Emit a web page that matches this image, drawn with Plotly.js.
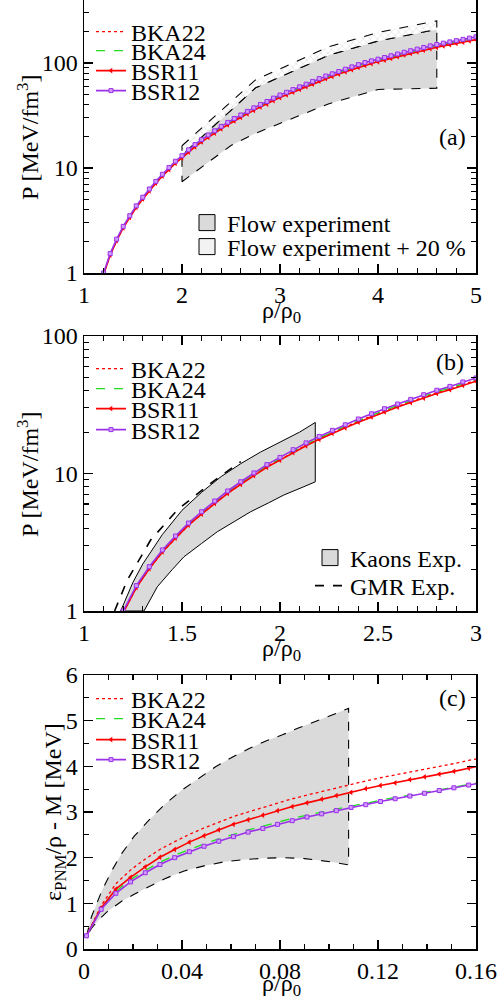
<!DOCTYPE html>
<html>
<head>
<meta charset="utf-8">
<script src="https://cdn.plot.ly/plotly-3.0.1.min.js"></script>
<style>html,body{margin:0;padding:0;background:#fff;}#chart{width:501px;height:1003px;}</style>
</head>
<body>
<div id="chart"></div>
<script>
// ---------- data: pressure vs density (panels a, b) ----------
const rho = [1.2, 1.267, 1.333, 1.4, 1.467, 1.533, 1.6, 1.667, 1.733, 1.8, 1.867, 1.933, 2.0, 2.067, 2.133, 2.2, 2.267, 2.333, 2.4, 2.467, 2.533, 2.6, 2.667, 2.733, 2.8, 2.867, 2.933, 3.0, 3.067, 3.133, 3.2, 3.267, 3.333, 3.4, 3.467, 3.533, 3.6, 3.667, 3.733, 3.8, 3.867, 3.933, 4.0, 4.067, 4.133, 4.2, 4.267, 4.333, 4.4, 4.467, 4.533, 4.6, 4.667, 4.733, 4.8, 4.867, 4.933, 5.0];
const pBKA22 = [0.975, 1.48, 2.03, 2.68, 3.38, 4.20, 5.08, 6.08, 7.18, 8.39, 9.73, 11.2, 12.6, 14.3, 16.1, 17.9, 19.8, 21.8, 24.0, 26.2, 28.5, 30.8, 33.3, 36.0, 38.8, 41.4, 44.6, 47.6, 50.6, 53.7, 57.0, 60.5, 64.3, 68.3, 72.2, 75.9, 79.8, 84.0, 88.3, 92.7, 97.1, 100.8, 104.6, 108.6, 112.7, 117.2, 121.7, 125.9, 130.4, 135.3, 140.1, 144.3, 148.6, 152.9, 157.1, 161.5, 166.0, 170.7];
const pBKA24 = [0.98, 1.49, 2.05, 2.71, 3.42, 4.25, 5.14, 6.15, 7.27, 8.49, 9.85, 11.3, 12.8, 14.5, 16.3, 18.1, 20.1, 22.0, 24.3, 26.5, 28.9, 31.2, 33.7, 36.5, 39.3, 41.9, 45.1, 48.3, 51.3, 54.4, 57.8, 61.3, 65.1, 69.2, 73.2, 76.9, 80.9, 85.1, 89.5, 94.0, 98.4, 102.2, 106.0, 110.1, 114.3, 118.8, 123.3, 127.6, 132.2, 137.1, 142.0, 146.3, 150.6, 154.9, 159.2, 163.7, 168.3, 173.0];
const pBSR11 = [0.97, 1.48, 2.03, 2.69, 3.39, 4.21, 5.07, 6.06, 7.16, 8.35, 9.67, 11.1, 12.5, 14.2, 15.9, 17.7, 19.6, 21.5, 23.6, 25.8, 28.1, 30.4, 32.8, 35.4, 38.2, 40.7, 43.8, 46.9, 49.8, 52.8, 56.1, 59.5, 63.1, 67.1, 71.0, 74.5, 78.4, 82.4, 86.7, 91.0, 95.2, 98.9, 102.6, 106.5, 110.5, 114.9, 119.3, 123.4, 127.8, 132.5, 137.2, 141.3, 145.5, 149.6, 153.7, 158.0, 162.4, 166.9];
const pBSR12 = [1.0, 1.53, 2.10, 2.78, 3.51, 4.36, 5.27, 6.31, 7.46, 8.71, 10.1, 11.6, 13.1, 14.9, 16.7, 18.6, 20.6, 22.6, 24.9, 27.2, 29.6, 32.0, 34.6, 37.4, 40.3, 43.0, 46.3, 49.5, 52.6, 55.8, 59.3, 62.9, 66.8, 71.0, 75.1, 78.9, 83.0, 87.3, 91.8, 96.4, 100.9, 104.8, 108.7, 112.9, 117.2, 121.8, 126.5, 130.9, 135.6, 140.6, 145.6, 150.0, 154.5, 158.9, 163.3, 167.9, 172.6, 177.4];

// flow experiment band (panel a)
const flowLowX = [2.0, 2.5, 2.75, 3.5, 4.0, 4.6];
const flowLowP = [7.4, 16.4, 21.4, 41, 56, 57.5];
const flowHighX = [2.0, 2.75, 3.5, 4.0, 4.6];
const flowHighP = [13.3, 58, 119, 162, 209];
const flow20P = [16.3, 69, 143, 195, 252];

// kaons band and GMR line (panel b)
const kaonUpX = [1.187, 1.25, 1.3, 1.4, 1.5, 1.6, 1.7, 1.8, 1.9, 2.0, 2.1, 2.18];
const kaonUpP = [1.0, 1.62, 2.2, 3.6, 5.4, 7.3, 9.5, 11.8, 14.3, 17.0, 20.0, 23.5];
const kaonLowX = [1.306, 1.374, 1.45, 1.51, 1.6, 1.68, 1.77, 1.85, 1.94, 2.02, 2.122, 2.18];
const kaonLowP = [1.0, 1.50, 2.0, 2.48, 3.1, 3.77, 4.5, 5.27, 6.1, 6.98, 8.02, 8.7];
const gmrX = [1.156, 1.19, 1.221, 1.34, 1.476, 1.646, 1.8];
const gmrP = [1.0, 1.33, 1.68, 3.28, 5.43, 8.49, 12.2];

// ---------- data: PNM energy per particle (panel c) ----------
const rhoC = [0.001, 0.007, 0.013, 0.019, 0.025, 0.031, 0.037, 0.043, 0.049, 0.055, 0.061, 0.067, 0.073, 0.079, 0.085, 0.091, 0.097, 0.103, 0.109, 0.115, 0.121, 0.127, 0.133, 0.139, 0.145, 0.151, 0.157, 0.163];
const eBKA22 = [0.29, 0.95, 1.43, 1.73, 1.97, 2.18, 2.35, 2.51, 2.65, 2.78, 2.90, 3.00, 3.10, 3.20, 3.29, 3.37, 3.45, 3.53, 3.60, 3.68, 3.75, 3.81, 3.88, 3.94, 4.00, 4.06, 4.13, 4.19];
const eBKA24 = [0.29, 0.89, 1.26, 1.52, 1.72, 1.90, 2.05, 2.18, 2.30, 2.41, 2.51, 2.61, 2.69, 2.78, 2.86, 2.93, 3.00, 3.07, 3.13, 3.19, 3.26, 3.32, 3.37, 3.43, 3.49, 3.54, 3.60, 3.66];
const eBSR11 = [0.29, 0.90, 1.31, 1.57, 1.80, 2.01, 2.18, 2.34, 2.48, 2.61, 2.73, 2.83, 2.93, 3.03, 3.12, 3.20, 3.28, 3.36, 3.43, 3.51, 3.58, 3.64, 3.71, 3.77, 3.83, 3.89, 3.96, 4.02];
const eBSR12 = [0.29, 0.87, 1.22, 1.47, 1.67, 1.85, 2.00, 2.13, 2.25, 2.36, 2.46, 2.56, 2.64, 2.73, 2.81, 2.89, 2.96, 3.03, 3.10, 3.16, 3.23, 3.29, 3.35, 3.41, 3.47, 3.53, 3.59, 3.65];
const bandUpX = [0.001, 0.003, 0.0074, 0.0115, 0.0155, 0.0205, 0.0265, 0.033, 0.040, 0.047, 0.0537, 0.0605, 0.0674, 0.074, 0.081, 0.088, 0.095, 0.1015, 0.108];
const bandUpE = [0.28, 0.70, 1.29, 1.73, 2.10, 2.47, 2.82, 3.17, 3.48, 3.75, 3.99, 4.20, 4.39, 4.55, 4.69, 4.85, 4.99, 5.13, 5.27];
const bandLowX = [0.001, 0.003, 0.0057, 0.0095, 0.0155, 0.0205, 0.0252, 0.033, 0.0409, 0.049, 0.0573, 0.066, 0.0745, 0.0818, 0.09, 0.0957, 0.102, 0.108];
const bandLowE = [0.25, 0.45, 0.62, 0.82, 1.05, 1.20, 1.33, 1.54, 1.71, 1.82, 1.91, 1.96, 1.99, 2.00, 1.98, 1.95, 1.90, 1.84];

const names = ['BKA22', 'BKA24', 'BSR11', 'BSR12'];

// ---------- styling ----------
const FONT = 'Liberation Serif, Times New Roman, serif';
const RED = '#ff0000', GREEN = '#22dd22', PURPLE = '#9b30e8', GRAY = '#dadada';
const styles = {
  BKA22: {mode: 'lines', line: {color: RED, width: 1.3, dash: 'dot'}},
  BKA24: {mode: 'lines', line: {color: GREEN, width: 1.3, dash: 'dash'}},
  BSR11: {mode: 'lines+markers', line: {color: RED, width: 1.6}, marker: {symbol: 'triangle-left', size: 5, color: RED}},
  BSR12: {mode: 'lines+markers', line: {color: PURPLE, width: 1.6}, marker: {symbol: 'square', size: 4, color: '#cf9cff', line: {color: PURPLE, width: 1}}}
};
const PL = 84, PR = 25, PB = 54, PH = 949, PW = 392;
const px2x = p => (p - PL) / PW;
const py2y = p => (PH - p) / PH;
const rev = a => a.slice().reverse();

const traces = [];
const layout = {
  width: 501, height: 1003,
  margin: {l: PL, r: PR, t: 0, b: PB},
  paper_bgcolor: '#fff', plot_bgcolor: '#fff',
  font: {family: FONT, size: 24, color: '#000'},
  showlegend: true,
  annotations: []
};
let legN = 0;
function newLegend(textX, yPix) {
  legN += 1;
  const key = legN === 1 ? 'legend' : 'legend' + legN;
  layout[key] = {x: px2x(textX - 42), y: py2y(yPix), xanchor: 'left', yanchor: 'middle',
    bgcolor: 'rgba(0,0,0,0)', borderwidth: 0, font: {family: FONT, size: 24, color: '#000'}, itemwidth: 30};
  return key;
}
// legend-only entry (no data, only a legend symbol)
function legendBox(name, xa, ya, fill, key) {
  return {x: [null], y: [null], xaxis: xa, yaxis: ya, mode: 'markers', name: name, legend: key,
    marker: {symbol: 'square', size: 16, color: fill, line: {color: '#000', width: 1}}, hoverinfo: 'skip'};
}

// ---- panel (a) bands ----
traces.push({x: flowLowX.concat(rev(flowHighX), [flowLowX[0]]), y: flowLowP.concat(rev(flowHighP), [flowLowP[0]]),
  xaxis: 'x', yaxis: 'y', mode: 'lines', fill: 'toself', fillcolor: GRAY,
  line: {color: '#000', width: 1.1, dash: 'dash'}, showlegend: false, hoverinfo: 'skip'});
traces.push({x: flowHighX.concat(rev(flowHighX), [flowHighX[0]]), y: flow20P.concat(rev(flowHighP), [flow20P[0]]),
  xaxis: 'x', yaxis: 'y', mode: 'lines', fill: 'toself', fillcolor: '#ffffff',
  fillpattern: {shape: 'x', fgcolor: '#c8c8c8', bgcolor: '#ffffff', size: 5, solidity: 0.15},
  line: {color: '#000', width: 1.1, dash: 'dash'}, showlegend: false, hoverinfo: 'skip'});
traces.push(legendBox('Flow experiment', 'x', 'y', GRAY, newLegend(229, 223)));
traces.push(legendBox('Flow experiment + 20 %', 'x', 'y', '#f2f2f2', newLegend(229, 247)));

// ---- panel (b) bands ----
traces.push({x: kaonUpX.concat(rev(kaonLowX), [kaonUpX[0]]), y: kaonUpP.concat(rev(kaonLowP), [kaonUpP[0]]),
  xaxis: 'x2', yaxis: 'y2', mode: 'lines', fill: 'toself', fillcolor: GRAY,
  line: {color: '#000', width: 1}, showlegend: false, hoverinfo: 'skip'});
traces.push(legendBox('Kaons Exp.', 'x2', 'y2', GRAY, newLegend(352, 558)));
traces.push({x: gmrX, y: gmrP, xaxis: 'x2', yaxis: 'y2', mode: 'lines',
  line: {color: '#000', width: 1.6, dash: 'dash'}, name: 'GMR Exp.', legend: newLegend(352, 586), hoverinfo: 'skip'});

// ---- panel (c) band ----
traces.push({x: bandUpX.concat(rev(bandLowX), [bandUpX[0]]), y: bandUpE.concat(rev(bandLowE), [bandUpE[0]]),
  xaxis: 'x3', yaxis: 'y3', mode: 'lines', fill: 'toself', fillcolor: GRAY,
  line: {color: '#000', width: 1.1, dash: 'dash'}, showlegend: false, hoverinfo: 'skip'});

// ---- model curves ----
const pData = {BKA22: pBKA22, BKA24: pBKA24, BSR11: pBSR11, BSR12: pBSR12};
const eData = {BKA22: eBKA22, BKA24: eBKA24, BSR11: eBSR11, BSR12: eBSR12};
const legY = {a: [32, 51, 71, 91], b: [369, 389, 409, 430], c: [699, 719, 740, 760]};
const copy = o => JSON.parse(JSON.stringify(o));
names.forEach((n, i) => {
  traces.push(Object.assign({x: rho, y: pData[n], xaxis: 'x', yaxis: 'y', name: n, legend: newLegend(133, legY.a[i])}, copy(styles[n])));
});
names.forEach((n, i) => {
  traces.push(Object.assign({x: rho, y: pData[n], xaxis: 'x2', yaxis: 'y2', name: n, legend: newLegend(133, legY.b[i])}, copy(styles[n])));
});
names.forEach((n, i) => {
  traces.push(Object.assign({x: rhoC, y: eData[n], xaxis: 'x3', yaxis: 'y3', name: n, legend: newLegend(133, legY.c[i])}, copy(styles[n])));
});

// ---------- axes ----------
function minor(dt) { return {ticks: 'inside', ticklen: 5, tickwidth: 1.1, tickcolor: '#000', dtick: dt, showgrid: false}; }
function axis(extra) {
  return Object.assign({
    showline: true, linecolor: '#000', linewidth: 1.5, mirror: 'ticks',
    ticks: 'inside', ticklen: 9, tickwidth: 1.2, tickcolor: '#000',
    showgrid: false, zeroline: false,
    tickfont: {family: FONT, size: 24, color: '#000'}
  }, extra);
}
const tfont = {family: FONT, size: 24, color: '#000'};

const dA = [py2y(273), 1];
const dB = [py2y(611), py2y(336)];
const dC = [0, py2y(675)];
layout.xaxis = axis({domain: [0, 1], anchor: 'y', range: [1, 5], dtick: 1, tick0: 1, mirror: false, minor: minor(0.2)});
layout.yaxis = axis({domain: dA, anchor: 'x', type: 'log', range: [0, 2.6], dtick: 1, minor: minor('D1')});
layout.xaxis2 = axis({domain: [0, 1], anchor: 'y2', range: [1, 3], dtick: 0.5, tick0: 1, minor: minor(0.1)});
layout.yaxis2 = axis({domain: dB, anchor: 'x2', type: 'log', range: [0, 2], dtick: 1, minor: minor('D1')});
layout.xaxis3 = axis({domain: [0, 1], anchor: 'y3', range: [0, 0.16], dtick: 0.04, tick0: 0, minor: minor(0.01)});
layout.yaxis3 = axis({domain: dC, anchor: 'x3', range: [0, 6], dtick: 1, tick0: 0, minor: minor(0.5)});

// axis titles (placed as paper annotations for exact positioning)
const xTitleTxt = 'ρ/ρ<sub>0</sub>';
const pTitleTxt = 'P [MeV/fm<sup>3</sup>]';
const eTitleTxt = 'ε<sub>PNM</sub>/ρ - M [MeV]';
[[xTitleTxt, 281, 312, 0], [xTitleTxt, 281, 650, 0], [xTitleTxt, 281, 985, 0],
 [pTitleTxt, 28, 137, -90], [pTitleTxt, 28, 474, -90], [eTitleTxt, 55, 812, -90]].forEach(([t, x, y, a]) => {
  layout.annotations.push({text: t, xref: 'paper', yref: 'paper', x: px2x(x), y: py2y(y), xanchor: 'center', yanchor: 'middle',
    textangle: a, showarrow: false, font: tfont});
});

// panel labels
[['(a)', 452, 137], ['(b)', 450, 362], ['(c)', 452, 698]].forEach(([t, x, y]) => {
  layout.annotations.push({text: t, xref: 'paper', yref: 'paper', x: px2x(x), y: py2y(y), xanchor: 'center', yanchor: 'middle', showarrow: false, font: tfont});
});

Plotly.newPlot('chart', traces, layout, {staticPlot: true, displayModeBar: false});
</script>
</body>
</html>
